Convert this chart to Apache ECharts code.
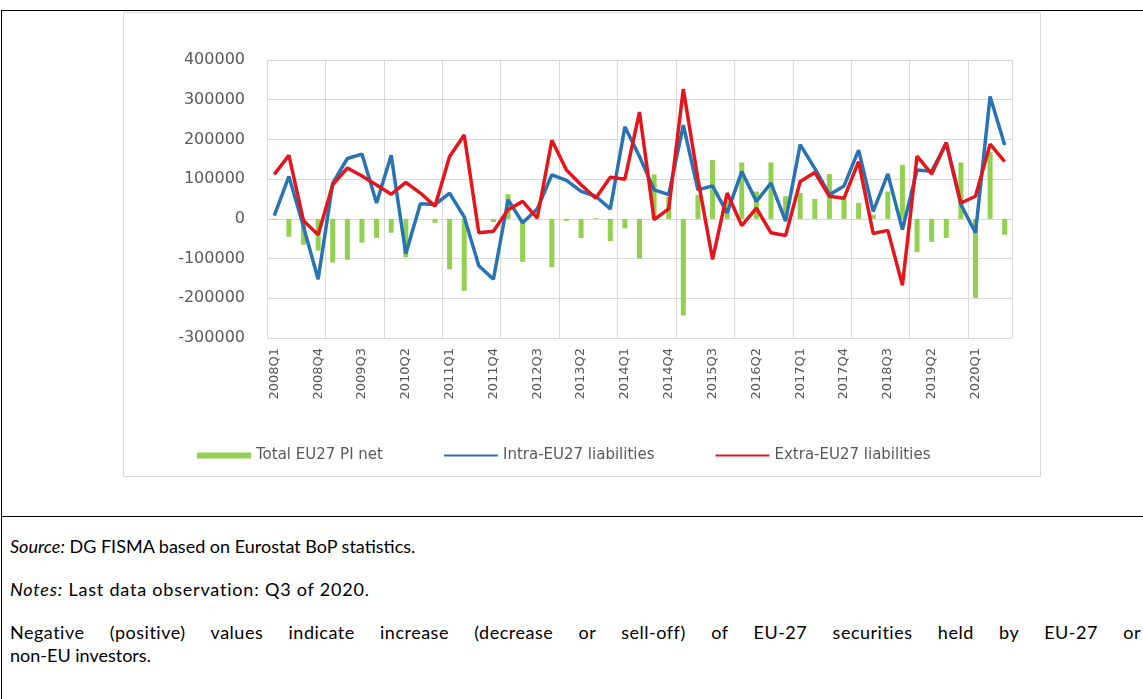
<!DOCTYPE html>
<html>
<head>
<meta charset="utf-8">
<script src="https://cdn.jsdelivr.net/npm/echarts@6/dist/echarts.min.js"></script>
<style>
  html, body { margin:0; padding:0; width:1143px; height:699px; background:#fff; overflow:hidden; }
  .frame { position:absolute; left:1px; top:10px; width:1142px; height:689px; border-top:1px solid #000; border-left:1px solid #000; }
  .sep { position:absolute; left:1px; top:516px; width:1142px; height:0; border-top:1px solid #000; }
  .box { position:absolute; left:123px; top:12px; width:916px; height:463px; border:1px solid #d9d9d9; }
  .note { position:absolute; left:10px; font-family:Lato, "Liberation Sans", sans-serif; font-size:18px; color:#000; line-height:23px; white-space:nowrap; }
  .just { width:1131px; text-align:justify; text-align-last:justify; letter-spacing:0.5px; }
  #chart { position:absolute; left:0; top:0; width:1143px; height:699px; }
</style>
</head>
<body>
<div class="frame"></div>
<div class="sep"></div>
<div class="box"></div>
<div class="note" style="top:535px"><i>Source:</i> DG FISMA based on Eurostat BoP statistics.</div>
<div class="note" style="top:578px; letter-spacing:0.8px;"><i>Notes:</i> Last data observation: Q3 of 2020.</div>
<div class="note just" style="top:621px">Negative (positive) values indicate increase (decrease or sell-off) of EU-27 securities held by EU-27 or</div>
<div class="note" style="top:644px">non-EU investors.</div>
<div id="chart"></div>
<script>
const quarters = [
  '2008Q1','2008Q2','2008Q3','2008Q4','2009Q1','2009Q2','2009Q3','2009Q4',
  '2010Q1','2010Q2','2010Q3','2010Q4','2011Q1','2011Q2','2011Q3','2011Q4',
  '2012Q1','2012Q2','2012Q3','2012Q4','2013Q1','2013Q2','2013Q3','2013Q4',
  '2014Q1','2014Q2','2014Q3','2014Q4','2015Q1','2015Q2','2015Q3','2015Q4',
  '2016Q1','2016Q2','2016Q3','2016Q4','2017Q1','2017Q2','2017Q3','2017Q4',
  '2018Q1','2018Q2','2018Q3','2018Q4','2019Q1','2019Q2','2019Q3','2019Q4',
  '2020Q1','2020Q2','2020Q3'
];

const totalPINet = [
  -2000, -45000, -65000, -80000, -110000, -103000, -60000, -48000,
  -35000, -97000, 0, -10000, -127000, -181000, -2000, -8000,
  62000, -108000, 0, -122000, -5000, -48000, 2000, -56000,
  -24000, -100000, 112000, 55000, -243000, 60000, 148000, 45000,
  142000, 69000, 142000, 57000, 65000, 50000, 113000, 52000,
  40000, 10000, 69000, 136000, -84000, -58000, -48000, 142000,
  -199000, 168000, -40000
];

const intraLiabilities = [
  8000, 107000, -20000, -152000, 90000, 152000, 163000, 40000,
  160000, -88000, 38000, 36000, 65000, 5000, -118000, -152000,
  48000, -10000, 25000, 111000, 97000, 69000, 57000, 25000,
  232000, 157000, 73000, 61000, 236000, 73000, 83000, 15000,
  119000, 44000, 90000, -6000, 187000, 127000, 61000, 83000,
  173000, 19000, 113000, -27000, 123000, 120000, 190000, 36000,
  -35000, 308000, 186000
];

const extraLiabilities = [
  112000, 160000, -5000, -40000, 86000, 128000, 108000, 85000,
  62000, 92000, 65000, 32000, 157000, 211000, -35000, -31000,
  23000, 44000, 2000, 198000, 123000, 86000, 52000, 105000,
  100000, 269000, -2000, 25000, 327000, 100000, -102000, 65000,
  -17000, 27000, -35000, -42000, 94000, 117000, 57000, 52000,
  144000, -37000, -29000, -167000, 158000, 113000, 192000, 40000,
  57000, 188000, 144000
];

const seriesNames = ['Total EU27 PI net', 'Intra-EU27 liabilities', 'Extra-EU27 liabilities'];
const blue = '#2873B4';
const red = '#E4161C';

const chart = echarts.init(document.getElementById('chart'), null, { renderer: 'canvas' });
const font = '"DejaVu Sans", "Open Sans", sans-serif';
chart.setOption({
  animation: false,
  backgroundColor: 'transparent',
  grid: { left: 267, right: 131, top: 60, bottom: 361 },
  legend: {
    top: 443,
    left: 192,
    itemWidth: 54,
    itemHeight: 6,
    itemGap: 60,
    textStyle: { fontFamily: font, fontSize: 15, color: '#595959' },
    data: [
      { name: seriesNames[0], icon: 'rect' },
      { name: seriesNames[1], itemStyle: { opacity: 0 } },
      { name: seriesNames[2], itemStyle: { opacity: 0 } }
    ]
  },
  xAxis: {
    type: 'category',
    data: quarters,
    boundaryGap: true,
    axisLine: { show: false, onZero: false },
    axisTick: { show: false },
    splitLine: { show: true, interval: 3, lineStyle: { color: '#d9d9d9', width: 1 } },
    axisLabel: {
      interval: 2,
      rotate: 90,
      margin: 10,
      color: '#595959',
      fontFamily: font,
      fontSize: 13
    }
  },
  yAxis: {
    type: 'value',
    min: -300000,
    max: 400000,
    interval: 100000,
    axisLine: { show: false },
    axisTick: { show: false },
    splitLine: { lineStyle: { color: '#d9d9d9', width: 1 } },
    axisLabel: {
      color: '#595959', fontFamily: font, fontSize: 16, margin: 22,
      formatter: function (v) { return String(v); }
    }
  },
  series: [
    {
      name: seriesNames[0],
      type: 'bar',
      data: totalPINet,
      barWidth: 5,
      itemStyle: { color: '#92D050' }
    },
    {
      name: seriesNames[1],
      type: 'line',
      data: intraLiabilities,
      symbol: 'none',
      lineStyle: { color: blue, width: 3.5 },
      itemStyle: { color: blue }
    },
    {
      name: seriesNames[2],
      type: 'line',
      data: extraLiabilities,
      symbol: 'none',
      lineStyle: { color: red, width: 3.5 },
      itemStyle: { color: red }
    }
  ]
});
</script>
</body>
</html>
